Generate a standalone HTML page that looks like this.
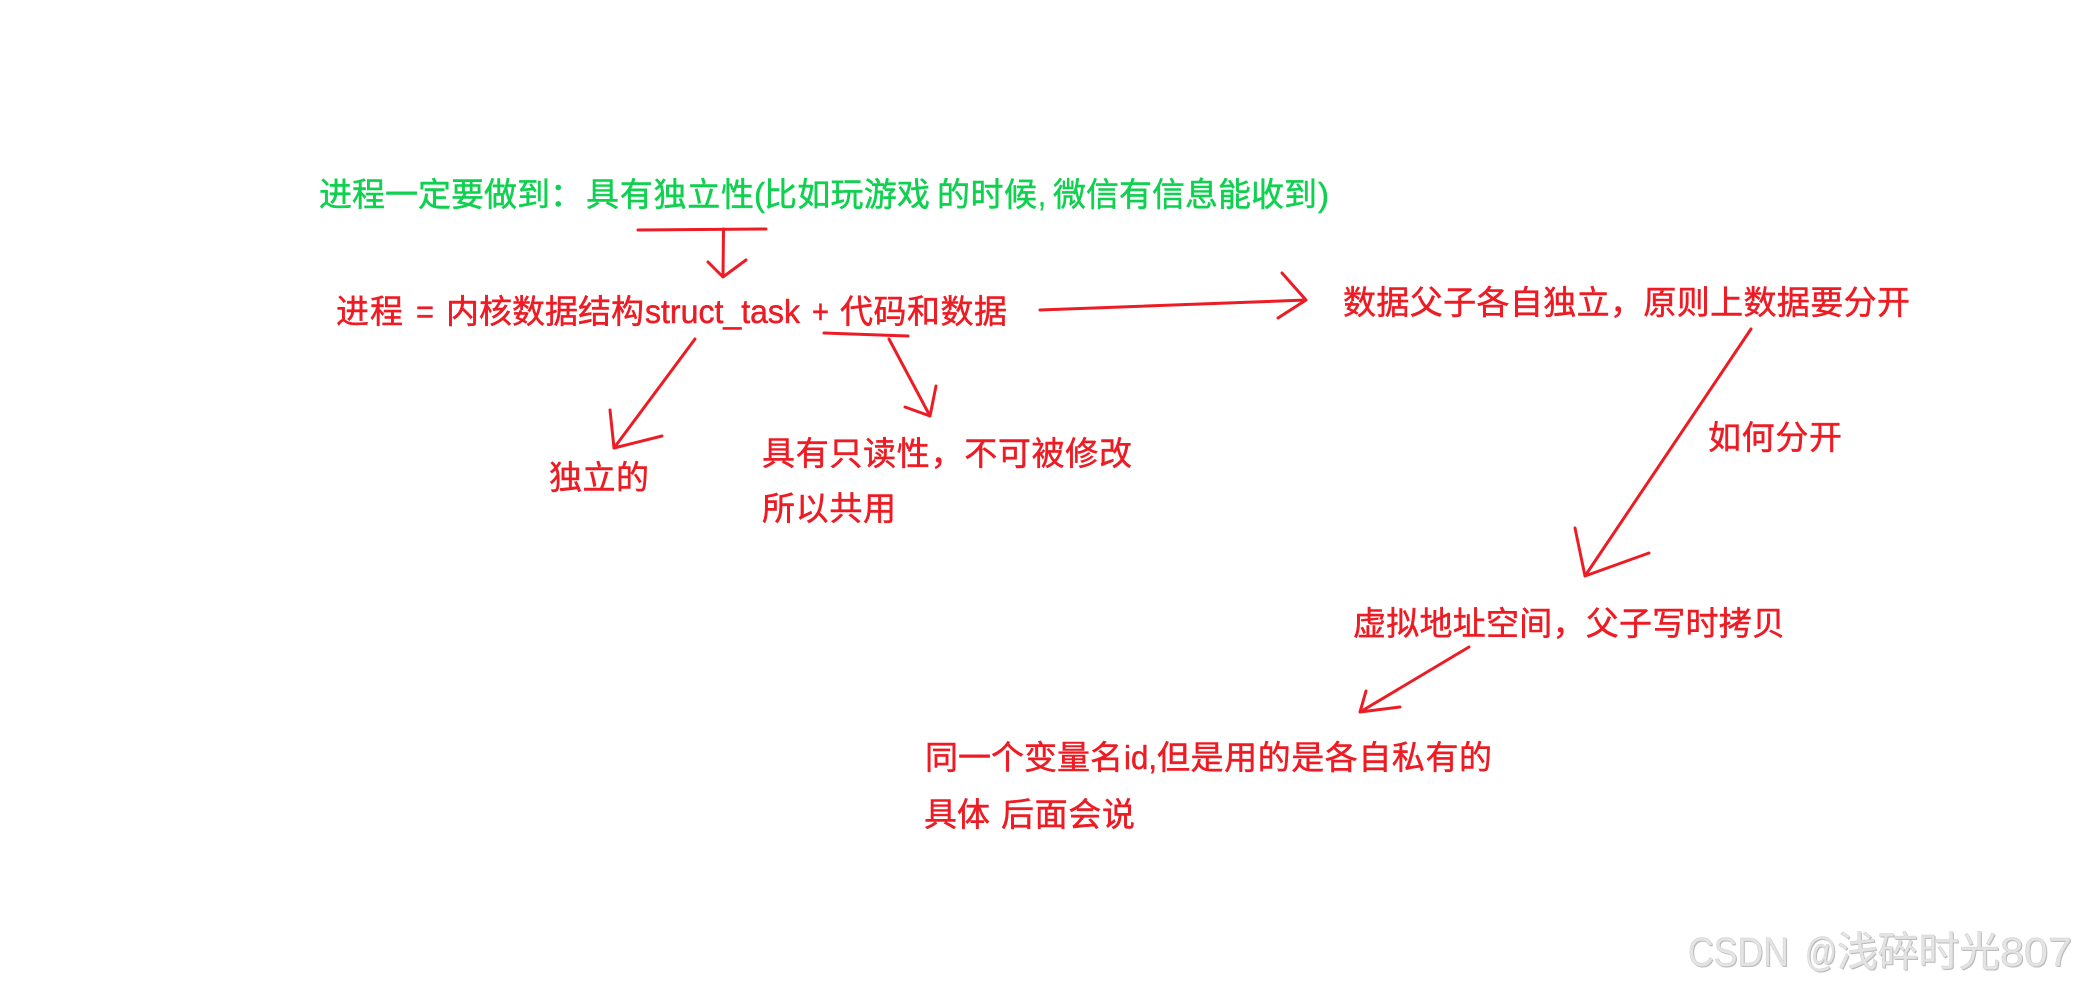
<!DOCTYPE html>
<html><head><meta charset="utf-8"><style>
html,body{margin:0;padding:0;background:#fff;width:2078px;height:986px;overflow:hidden}
svg{display:block}
text{font-family:"Liberation Sans","Noto Sans CJK SC",sans-serif;font-size:33px;fill:#ed1c24;stroke:#ed1c24;stroke-width:.5;white-space:pre}
.g text{fill:#10d050;stroke:#10d050}
.w text{font-size:41px;fill:#e4e4e4;stroke:#cfcfcf;stroke-width:.5}
.w .s{fill:#b8b8b8;stroke:none}
.l{fill:none;stroke:#ed1c24;stroke-width:3;stroke-linecap:round;stroke-linejoin:round}
</style></head><body>
<svg width="2078" height="986" viewBox="0 0 2078 986" xmlns="http://www.w3.org/2000/svg">
<rect width="2078" height="986" fill="#fff"/>
<g transform="translate(0,-1)">
<g class="g">
<text x="319" y="207" textLength="264" lengthAdjust="spacing">进程一定要做到：</text>
<text x="586" y="207" textLength="168" lengthAdjust="spacing">具有独立性</text>
<text x="754" y="207" textLength="11" lengthAdjust="spacingAndGlyphs">(</text>
<text x="764" y="207" textLength="166" lengthAdjust="spacing">比如玩游戏</text>
<text x="937" y="207" textLength="100" lengthAdjust="spacing">的时候</text>
<text x="1038" y="207" textLength="8" lengthAdjust="spacingAndGlyphs">,</text>
<text x="1053" y="207" textLength="264" lengthAdjust="spacing">微信有信息能收到</text>
<text x="1318" y="207" textLength="11" lengthAdjust="spacingAndGlyphs">)</text>
</g>
<text x="336" y="324" textLength="67" lengthAdjust="spacing">进程</text>
<text x="416" y="324" textLength="18" lengthAdjust="spacingAndGlyphs">=</text>
<text x="446" y="324" textLength="198" lengthAdjust="spacing">内核数据结构</text>
<text x="645" y="324" textLength="155" lengthAdjust="spacingAndGlyphs">struct_task</text>
<text x="812" y="324" textLength="17" lengthAdjust="spacingAndGlyphs">+</text>
<text x="840" y="324" textLength="167" lengthAdjust="spacing">代码和数据</text>
<text x="549" y="490" textLength="100" lengthAdjust="spacing">独立的</text>
<text x="762" y="466" textLength="370" lengthAdjust="spacing">具有只读性，不可被修改</text>
<text x="762" y="521" textLength="134" lengthAdjust="spacing">所以共用</text>
<text x="1343" y="315" textLength="567" lengthAdjust="spacing">数据父子各自独立，原则上数据要分开</text>
<text x="1708" y="450" textLength="134" lengthAdjust="spacing">如何分开</text>
<text x="1353" y="636" textLength="432" lengthAdjust="spacing">虚拟地址空间，父子写时拷贝</text>
<text x="925" y="770" textLength="198" lengthAdjust="spacing">同一个变量名</text>
<text x="1124" y="770" textLength="33" lengthAdjust="spacingAndGlyphs">id,</text>
<text x="1157" y="770" textLength="335" lengthAdjust="spacing">但是用的是各自私有的</text>
<text x="924" y="827" textLength="66" lengthAdjust="spacing">具体</text>
<text x="1001" y="827" textLength="134" lengthAdjust="spacing">后面会说</text>
</g>
<g class="w">
<text class="s" x="1689" y="967" textLength="101" lengthAdjust="spacingAndGlyphs">CSDN</text>
<text class="s" x="1806" y="967" textLength="32" lengthAdjust="spacingAndGlyphs">@</text>
<text class="s" x="1838" y="967" textLength="163" lengthAdjust="spacing">浅碎时光</text>
<text class="s" x="2001" y="967" textLength="72" lengthAdjust="spacingAndGlyphs">807</text>
<text x="1688" y="966" textLength="101" lengthAdjust="spacingAndGlyphs">CSDN</text>
<text x="1805" y="966" textLength="32" lengthAdjust="spacingAndGlyphs">@</text>
<text x="1837" y="966" textLength="163" lengthAdjust="spacing">浅碎时光</text>
<text x="2000" y="966" textLength="72" lengthAdjust="spacingAndGlyphs">807</text>
</g>
<path class="l" d="M638 230L766 229"/>
<path class="l" d="M723.5 229L723 277M708 262L723 277L746 260"/>
<path class="l" d="M695 339L614 448M610 410L614 448L662 436"/>
<path class="l" d="M824 333L908 336"/>
<path class="l" d="M889 339L930 416M936 386L930 416L905 407"/>
<path class="l" d="M1040 310L1306 300M1282 273L1306 300L1278 318"/>
<path class="l" d="M1751 329L1585 576M1575 528L1585 576L1649 553"/>
<path class="l" d="M1469 647L1360 712M1366 691L1360 712L1400 707"/>
</svg>
</body></html>
